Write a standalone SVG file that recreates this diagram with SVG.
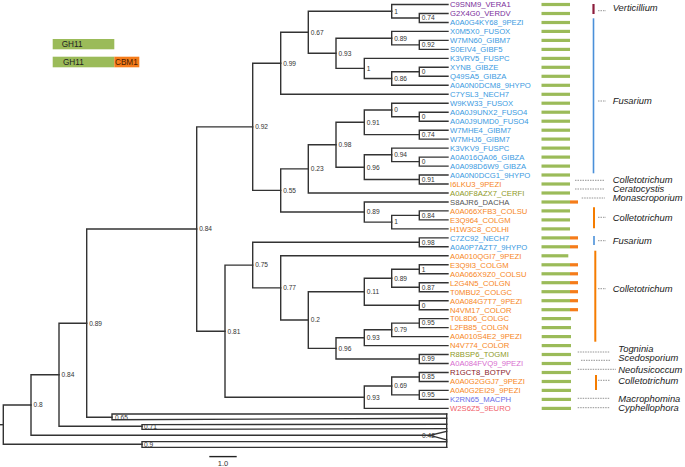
<svg xmlns="http://www.w3.org/2000/svg" width="685" height="467" viewBox="0 0 685 467">
<style>
.br{fill:none;stroke:#333;stroke-width:1.4;stroke-linejoin:miter;stroke-linecap:square}
.nl{font-family:"Liberation Sans",Arial,sans-serif;font-size:6.6px;fill:#333}
.lf{font-family:"Liberation Sans",Arial,sans-serif;font-size:7.7px}
.pu{fill:#7a2e9a}.bl{fill:#3b9ae1}.or{fill:#f7861c}.ol{fill:#8f9a27}.gy{fill:#555}.pk{fill:#d86ccf}.mr{fill:#8b1a2b}.bp{fill:#6a6ee8}.sa{fill:#f0606a}
.gb{fill:#9bbb59}.ob{fill:#f57c1a}
.gn{font-family:"Liberation Sans",Arial,sans-serif;font-size:9.4px;font-style:italic;fill:#222}
.dl{stroke:#888;stroke-width:0.9;stroke-dasharray:1.5 1;fill:none}
.lg{font-family:"Liberation Sans",Arial,sans-serif;font-size:8.2px;fill:#222}
</style>
<g id="legend">
<rect x="52.7" y="39" width="61.6" height="10.3" class="gb"/>
<text x="61.7" y="47" class="lg">GH11</text>
<rect x="52.7" y="56.7" width="61.6" height="10.6" class="gb"/>
<rect x="114.3" y="56.7" width="25" height="10.6" class="ob"/>
<text x="63" y="64.7" class="lg">GH11</text>
<text x="115" y="64.7" class="lg" style="fill:#4a1a00">CBM1</text>
</g>
<g id="connectors">
<path class="br" d="M448,13.5H419.3V22.5H448"/>
<path class="br" d="M448,4.5H391.7V18H419.3"/>
<path class="br" d="M448,40.4H419.3V49.4H448"/>
<path class="br" d="M448,31.4H391.7V44.9H419.3"/>
<path class="br" d="M448,67.3H419.3V76.3H448"/>
<path class="br" d="M419.3,71.8H391.7V85.3H448"/>
<path class="br" d="M448,58.4H364.3V78.5H391.7"/>
<path class="br" d="M391.7,38.2H336V68.4H364.3"/>
<path class="br" d="M391.7,11.2H308.3V53.3H336"/>
<path class="br" d="M308.3,32.3H280.7V94.3H448"/>
<path class="br" d="M448,112.2H419.3V121.2H448"/>
<path class="br" d="M448,103.2H391.7V116.7H419.3"/>
<path class="br" d="M448,130.2H419.3V139.1H448"/>
<path class="br" d="M391.7,110H364.3V134.6H419.3"/>
<path class="br" d="M448,157.1H419.3V166.1H448"/>
<path class="br" d="M448,148.1H391.7V161.6H419.3"/>
<path class="br" d="M448,175H419.3V184H448"/>
<path class="br" d="M391.7,154.8H364.3V179.5H419.3"/>
<path class="br" d="M364.3,122.3H336V167.2H364.3"/>
<path class="br" d="M336,144.7H308.3V193H448"/>
<path class="br" d="M448,210.9H419.3V219.9H448"/>
<path class="br" d="M419.3,215.4H391.7V228.9H448"/>
<path class="br" d="M448,202H364.3V222.1H391.7"/>
<path class="br" d="M308.3,168.9H280.7V212H364.3"/>
<path class="br" d="M280.7,63.3H252.7V190.4H280.7"/>
<path class="br" d="M448,237.9H419.3V246.8H448"/>
<path class="br" d="M448,264.8H419.3V273.8H448"/>
<path class="br" d="M448,282.7H419.3V291.7H448"/>
<path class="br" d="M419.3,269.3H391.7V287.2H419.3"/>
<path class="br" d="M448,300.7H419.3V309.7H448"/>
<path class="br" d="M391.7,278.2H364.3V305.2H419.3"/>
<path class="br" d="M448,318.6H419.3V327.6H448"/>
<path class="br" d="M419.3,323.1H391.7V336.6H448"/>
<path class="br" d="M391.7,329.8H364.3V345.6H448"/>
<path class="br" d="M448,354.5H419.3V363.5H448"/>
<path class="br" d="M364.3,337.7H336V359H419.3"/>
<path class="br" d="M364.3,291.7H308.3V348.4H336"/>
<path class="br" d="M448,255.8H280.7V320H308.3"/>
<path class="br" d="M419.3,242.3H252.7V287.9H280.7"/>
<path class="br" d="M448,372.5H419.3V381.5H448"/>
<path class="br" d="M448,390.4H419.3V399.4H448"/>
<path class="br" d="M419.3,377H391.7V394.9H419.3"/>
<path class="br" d="M391.7,386H364.3V408.4H448"/>
<path class="br" d="M252.7,265.1H225V397.2H364.3"/>
<path class="br" d="M252.7,126.9H196.7V331.2H225"/>
<path class="br" d="M196.7,229H86.7V417.3H112"/>
<path class="br" d="M86.7,323.2H59V426.3H142"/>
<path class="br" d="M59,374.7H31V435.3H430"/>
<path class="br" d="M31,405H3.3V444.3H142"/>
<path class="br" d="M0,424.7H3.3"/>
<path class="br" d="M446.7,414H112V419.8L446.7,418.3"/>
<path class="br" d="M446.7,424.3L142,424.6V429.4L446.7,428.6"/>
<path class="br" d="M446.7,431.3L430,435.3L446.7,440"/>
<path class="br" d="M446.7,441.8L142,441.6V447.4H446.7"/>
<path class="br" d="M446.7,414V447.4"/>
</g>
<g id="support" class="nl">
<text x="394.2" y="13.5">1</text>
<text x="421.8" y="20.3">0.74</text>
<text x="394.2" y="40.5">0.89</text>
<text x="421.8" y="47.2">0.92</text>
<text x="366.8" y="70.7">1</text>
<text x="421.8" y="74.1">0</text>
<text x="394.2" y="80.8">0.86</text>
<text x="338.5" y="55.6">0.93</text>
<text x="310.8" y="34.6">0.67</text>
<text x="283.2" y="65.6">0.99</text>
<text x="394.2" y="112.3">0</text>
<text x="421.8" y="119">0</text>
<text x="421.8" y="136.9">0.74</text>
<text x="366.8" y="124.6">0.91</text>
<text x="394.2" y="157.1">0.94</text>
<text x="421.8" y="163.9">0</text>
<text x="421.8" y="181.8">0.91</text>
<text x="366.8" y="169.5">0.96</text>
<text x="338.5" y="147">0.98</text>
<text x="310.8" y="171.2">0.23</text>
<text x="421.8" y="217.7">0.84</text>
<text x="394.2" y="224.4">1</text>
<text x="366.8" y="214.3">0.89</text>
<text x="283.2" y="192.7">0.55</text>
<text x="255.2" y="129.2">0.92</text>
<text x="421.8" y="244.6">0.98</text>
<text x="421.8" y="271.6">1</text>
<text x="421.8" y="289.5">0.87</text>
<text x="394.2" y="280.5">0.89</text>
<text x="421.8" y="307.5">0</text>
<text x="366.8" y="294">0.11</text>
<text x="421.8" y="325.4">0.95</text>
<text x="394.2" y="332.1">0.79</text>
<text x="366.8" y="340">0.93</text>
<text x="421.8" y="361.3">0.99</text>
<text x="338.5" y="350.7">0.96</text>
<text x="310.8" y="322.3">0.2</text>
<text x="283.2" y="290.2">0.77</text>
<text x="255.2" y="267.4">0.75</text>
<text x="421.8" y="379.3">0.85</text>
<text x="421.8" y="397.2">0.95</text>
<text x="394.2" y="388.3">0.69</text>
<text x="366.8" y="399.5">0.93</text>
<text x="227.5" y="333.5">0.81</text>
<text x="199.2" y="231.3">0.84</text>
<text x="89.2" y="325.5">0.89</text>
<text x="61.5" y="377">0.84</text>
<text x="33.5" y="407.3">0.8</text>
<text x="115" y="419.6">0.65</text>
<text x="144" y="428.6">0.71</text>
<text x="422" y="438">0.42</text>
<text x="144" y="446.6">0.9</text>
</g>
<g id="leaves" class="lf">
<text x="450" y="7.3" class="pu">C9SNM9_VERA1</text>
<text x="450" y="16.3" class="pu">G2X4G0_VERDV</text>
<text x="450" y="25.3" class="bl">A0A0G4KY68_9PEZI</text>
<text x="450" y="34.2" class="bl">X0M5X0_FUSOX</text>
<text x="450" y="43.2" class="bl">W7MN60_GIBM7</text>
<text x="450" y="52.2" class="bl">S0EIV4_GIBF5</text>
<text x="450" y="61.2" class="bl">K3VRV5_FUSPC</text>
<text x="450" y="70.1" class="bl">XYNB_GIBZE</text>
<text x="450" y="79.1" class="bl">Q49SA5_GIBZA</text>
<text x="450" y="88.1" class="bl">A0A0N0DCM8_9HYPO</text>
<text x="450" y="97.1" class="bl">C7YSL3_NECH7</text>
<text x="450" y="106" class="bl">W9KW33_FUSOX</text>
<text x="450" y="115" class="bl">A0A0J9UNX2_FUSO4</text>
<text x="450" y="124" class="bl">A0A0J9UMD0_FUSO4</text>
<text x="450" y="133" class="bl">W7MHE4_GIBM7</text>
<text x="450" y="141.9" class="bl">W7MHJ6_GIBM7</text>
<text x="450" y="150.9" class="bl">K3VKV9_FUSPC</text>
<text x="450" y="159.9" class="bl">A0A016QA06_GIBZA</text>
<text x="450" y="168.9" class="bl">A0A098D6W9_GIBZA</text>
<text x="450" y="177.8" class="bl">A0A0N0DCG1_9HYPO</text>
<text x="450" y="186.8" class="or">I6LKU3_9PEZI</text>
<text x="450" y="195.8" class="ol">A0A0F8AZX7_CERFI</text>
<text x="450" y="204.8" class="gy">S8AJR6_DACHA</text>
<text x="450" y="213.7" class="or">A0A066XFB3_COLSU</text>
<text x="450" y="222.7" class="or">E3Q964_COLGM</text>
<text x="450" y="231.7" class="or">H1W3C8_COLHI</text>
<text x="450" y="240.7" class="bl">C7ZC92_NECH7</text>
<text x="450" y="249.6" class="bl">A0A0P7AZT7_9HYPO</text>
<text x="450" y="258.6" class="or">A0A010QGI7_9PEZI</text>
<text x="450" y="267.6" class="or">E3Q9I3_COLGM</text>
<text x="450" y="276.6" class="or">A0A066X9Z0_COLSU</text>
<text x="450" y="285.5" class="or">L2G4N5_COLGN</text>
<text x="450" y="294.5" class="or">T0MBU2_COLGC</text>
<text x="450" y="303.5" class="or">A0A084G7T7_9PEZI</text>
<text x="450" y="312.5" class="or">N4VM17_COLOR</text>
<text x="450" y="321.4" class="or">T0L8D6_COLGC</text>
<text x="450" y="330.4" class="or">L2FB85_COLGN</text>
<text x="450" y="339.4" class="or">A0A010S4E2_9PEZI</text>
<text x="450" y="348.4" class="or">N4V774_COLOR</text>
<text x="450" y="357.3" class="ol">R8BSP6_TOGMI</text>
<text x="450" y="366.3" class="pk">A0A084FVQ9_9PEZI</text>
<text x="450" y="375.3" class="mr">R1GCT8_BOTPV</text>
<text x="450" y="384.3" class="or">A0A0G2GGJ7_9PEZI</text>
<text x="450" y="393.2" class="or">A0A0G2EI29_9PEZI</text>
<text x="450" y="402.2" class="bp">K2RN65_MACPH</text>
<text x="450" y="411.2" class="sa">W2S6Z5_9EURO</text>
</g>
<g id="domains">
<rect x="541.5" y="2.9" width="28.5" height="3.2" class="gb"/>
<rect x="541.5" y="11.9" width="28.5" height="3.2" class="gb"/>
<rect x="541.5" y="20.9" width="28.5" height="3.2" class="gb"/>
<rect x="541.5" y="29.8" width="28.5" height="3.2" class="gb"/>
<rect x="541.5" y="38.8" width="28.5" height="3.2" class="gb"/>
<rect x="541.5" y="47.8" width="28.5" height="3.2" class="gb"/>
<rect x="541.5" y="56.8" width="28.5" height="3.2" class="gb"/>
<rect x="541.5" y="65.7" width="28.5" height="3.2" class="gb"/>
<rect x="541.5" y="74.7" width="28.5" height="3.2" class="gb"/>
<rect x="541.5" y="83.7" width="28.5" height="3.2" class="gb"/>
<rect x="541.5" y="92.7" width="28.5" height="3.2" class="gb"/>
<rect x="541.5" y="101.6" width="28.5" height="3.2" class="gb"/>
<rect x="541.5" y="110.6" width="28.5" height="3.2" class="gb"/>
<rect x="541.5" y="119.6" width="28.5" height="3.2" class="gb"/>
<rect x="541.5" y="128.6" width="28.5" height="3.2" class="gb"/>
<rect x="541.5" y="137.5" width="28.5" height="3.2" class="gb"/>
<rect x="541.5" y="146.5" width="28.5" height="3.2" class="gb"/>
<rect x="541.5" y="155.5" width="28.5" height="3.2" class="gb"/>
<rect x="541.5" y="164.5" width="28.5" height="3.2" class="gb"/>
<rect x="541.5" y="173.4" width="28.5" height="3.2" class="gb"/>
<rect x="541.5" y="182.4" width="28.5" height="3.2" class="gb"/>
<rect x="541.5" y="191.4" width="28.5" height="3.2" class="gb"/>
<rect x="541.5" y="200.4" width="28.5" height="3.2" class="gb"/><rect x="570" y="200.4" width="8" height="3.2" class="ob"/>
<rect x="541.5" y="209.3" width="28.5" height="3.2" class="gb"/>
<rect x="541.5" y="218.3" width="28.5" height="3.2" class="gb"/>
<rect x="541.5" y="227.3" width="28.5" height="3.2" class="gb"/>
<rect x="541.5" y="236.3" width="28.5" height="3.2" class="gb"/><rect x="570" y="236.3" width="8" height="3.2" class="ob"/>
<rect x="541.5" y="245.2" width="28.5" height="3.2" class="gb"/><rect x="570" y="245.2" width="8" height="3.2" class="ob"/>
<rect x="541.5" y="254.2" width="26.8" height="3.2" class="gb"/>
<rect x="541.5" y="263.2" width="28.5" height="3.2" class="gb"/><rect x="570" y="263.2" width="8" height="3.2" class="ob"/>
<rect x="541.5" y="272.2" width="28.5" height="3.2" class="gb"/><rect x="570" y="272.2" width="8" height="3.2" class="ob"/>
<rect x="541.5" y="281.1" width="28.5" height="3.2" class="gb"/><rect x="570" y="281.1" width="8" height="3.2" class="ob"/>
<rect x="541.5" y="290.1" width="28.5" height="3.2" class="gb"/><rect x="570" y="290.1" width="8" height="3.2" class="ob"/>
<rect x="541.5" y="299.1" width="28.5" height="3.2" class="gb"/><rect x="570" y="299.1" width="8" height="3.2" class="ob"/>
<rect x="541.5" y="308.1" width="28.5" height="3.2" class="gb"/><rect x="570" y="308.1" width="8" height="3.2" class="ob"/>
<rect x="541.7" y="317" width="29.3" height="3.2" class="gb"/>
<rect x="541.7" y="326" width="29.3" height="3.2" class="gb"/>
<rect x="541.7" y="335" width="29.3" height="3.2" class="gb"/>
<rect x="541.7" y="344" width="29.3" height="3.2" class="gb"/>
<rect x="541.7" y="352.9" width="29.3" height="3.2" class="gb"/>
<rect x="541.7" y="361.9" width="29.3" height="3.2" class="gb"/>
<rect x="541.7" y="370.9" width="29.3" height="3.2" class="gb"/>
<rect x="541.7" y="379.9" width="29.3" height="3.2" class="gb"/>
<rect x="541.7" y="388.8" width="29.3" height="3.2" class="gb"/>
<rect x="541.7" y="397.8" width="29.3" height="3.2" class="gb"/>
<rect x="541.7" y="406.8" width="29.3" height="3.2" class="gb"/>
</g>
<g id="genera">
<line x1="593.5" y1="4" x2="593.5" y2="14" stroke="#8b1c3c" stroke-width="2.2"/>
<line x1="593.5" y1="18.3" x2="593.5" y2="173.3" stroke="#4a90d9" stroke-width="1.6"/>
<line x1="594" y1="207.3" x2="594" y2="228.3" stroke="#f57c00" stroke-width="2"/>
<line x1="594" y1="236" x2="594" y2="245" stroke="#4a90d9" stroke-width="1.6"/>
<line x1="595.3" y1="250.7" x2="595.3" y2="341.7" stroke="#f57c00" stroke-width="2"/>
<line x1="596" y1="375" x2="596" y2="390" stroke="#f57c00" stroke-width="2"/>
<path class="dl" d="M598,10.7H606M598,101H606M575,180.3H605M575,189H605M581.7,198H605M598,217.3H606M598,240.7H606M598,288.7H606M577.7,352H610M581,360.3H610M577.7,369.3H616M598,380.3H610M577.7,398.3H610M577.7,407.7H610"/>
<text x="612.7" y="11" class="gn">Verticillium</text>
<text x="612.7" y="104" class="gn">Fusarium</text>
<text x="612.7" y="183.3" class="gn">Colletotrichum</text>
<text x="612.7" y="192.2" class="gn">Ceratocystis</text>
<text x="612.7" y="201.2" class="gn">Monascroporium</text>
<text x="612.7" y="221" class="gn">Colletotrichum</text>
<text x="612.7" y="244" class="gn">Fusarium</text>
<text x="612.7" y="292" class="gn">Colletotrichum</text>
<text x="618.3" y="352" class="gn">Togninia</text>
<text x="618.3" y="361" class="gn">Scedosporium</text>
<text x="618.3" y="372.5" class="gn">Neofusicoccum</text>
<text x="618.3" y="383.5" class="gn">Colletotrichum</text>
<text x="618.3" y="401.8" class="gn">Macrophomina</text>
<text x="618.3" y="410.8" class="gn">Cyphellophora</text>
</g>
<g id="scale">
<line x1="209.3" y1="456.6" x2="236.7" y2="456.6" stroke="#222" stroke-width="1.4"/>
<text x="223" y="466" class="nl" style="font-size:7.5px;text-anchor:middle">1.0</text>
</g>
</svg>
